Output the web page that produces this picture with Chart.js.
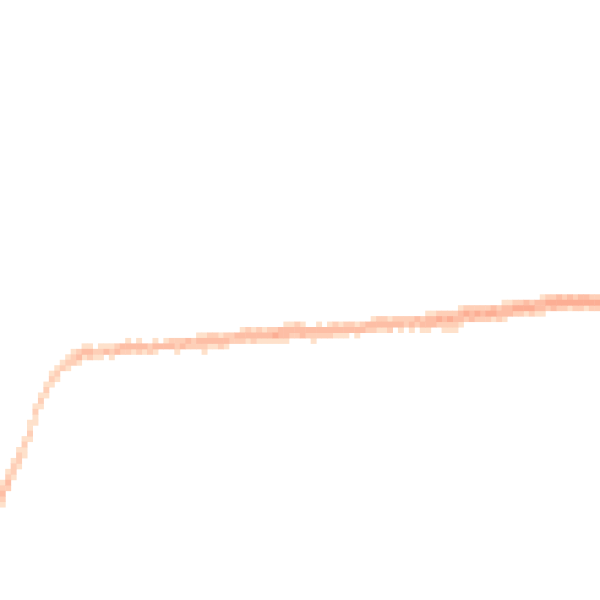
<!DOCTYPE html>
<html>
<head>
<meta charset="utf-8">
<script src="https://cdn.jsdelivr.net/npm/chart.js@4.4.0/dist/chart.umd.min.js"></script>
<style>
html,body{margin:0;padding:0;background:#fff;}
#wrap{width:600px;height:600px;position:relative;}
</style>
</head>
<body>
<div id="wrap"><canvas id="c"></canvas></div>
<script>
// Grid size (columns x rows) of the 2D histogram
const gridCols = 110;
const gridRows = 110;

// Per column: [first row from top, density level of each stacked cell...]
const columnCells = [
  [88,1,2,3,2,1],[86,1,2,3,2],[84,1,2,2,1],[82,1,2,2,1],[80,1,2,1,1],
  [77,1,1,2,1],[74,1,2,1,1],[72,1,2,1],[70,1,2,1],[68,1,2,1],
  [67,1,2,1],[66,1,2],[65,1,2,1],[64,1,2,2],[64,2,3,1],
  [63,1,3,1],[63,1,3,2],[64,2,1],[63,1,2,1],[63,1,3],
  [63,1,2,1],[63,2,3],[63,3,2],[62,1,3,2],[63,3,1],
  [62,1,3,2],[63,3,1],[63,2,2],[62,1,3,1],[63,3],
  [62,1,3],[62,2,3],[62,2,2,1],[62,2,3],[62,3,2],
  [62,2,2],[61,1,3,2],[61,1,3,2,1],[61,2,3,1],[61,2,3,1],
  [61,1,3,2],[61,2,3,1],[61,2,2],[61,3,2],[60,1,3,2],
  [60,2,3,1],[60,1,3,2],[60,2,3,1],[60,1,3,1],[60,2,3,1],
  [60,2,4,1],[60,3,3,1],[59,1,3,3,1],[59,1,3,2],[59,2,3,2],
  [59,1,3,3],[60,3,2],[60,3,2,1],[59,1,3,2],[60,3,2],
  [59,1,3,2],[59,2,3,1],[59,1,3,1],[59,2,3,1],[59,2,3],
  [59,1,3,1],[59,2,3],[59,3,2],[58,1,3,2],[58,2,3,1],
  [58,2,3,1],[58,1,3,2],[58,2,3],[58,2,3,1],[58,2,2],
  [58,2,3,1],[58,3,2],[58,2,3,1],[57,1,3,3,1],[57,1,3,3],
  [57,2,4,2],[57,2,3,2,1],[57,2,4,2,1],[57,2,3,2,1],[56,1,3,3,1],
  [56,2,4,2],[56,2,3,3],[56,2,4,2],[56,2,3,2],[56,2,4,2],
  [56,3,4,1],[56,2,3,2],[55,1,3,3,1],[55,1,3,3],[55,2,4,2],
  [55,2,4,2],[55,3,4,1],[55,2,4,2],[55,3,3,1],[54,1,3,3,1],
  [54,2,4,2],[54,2,4,3],[54,3,4,2],[54,2,4,2],[54,3,4,1],
  [54,2,4,2],[54,3,4,2],[54,3,4,1],[54,2,4,2],[54,2,4,2]
];

// Colour of each density level
const levelColors = ['#ffffff','#fee1cb','#fecfb7','#fdbea5','#fcae94'];

const points = [];
columnCells.forEach((col, c) => {
  const start = col[0];
  for (let k = 1; k < col.length; k++) {
    points.push({x: c + 0.5, y: start + (k - 1) + 0.5, v: col[k]});
  }
});
// draw lighter cells first so darker ones sit on top
points.sort((a, b) => a.v - b.v);

function cellRadius(ctx) {
  const ch = ctx.chart;
  const xs = ch.scales.x;
  if (!xs) return 4;
  const side = Math.abs(xs.getPixelForValue(1) - xs.getPixelForValue(0));
  return (side / 2 + 0.25) / Math.SQRT1_2;
}

new Chart(document.getElementById('c'), {
  type: 'scatter',
  data: {
    datasets: [{
      data: points,
      pointStyle: 'rect',
      pointRadius: cellRadius,
      pointHoverRadius: cellRadius,
      borderWidth: 0,
      pointBorderWidth: 0,
      backgroundColor: ctx => levelColors[ctx.raw ? ctx.raw.v : 1],
      pointBackgroundColor: ctx => levelColors[ctx.raw ? ctx.raw.v : 1]
    }]
  },
  options: {
    responsive: true,
    maintainAspectRatio: false,
    animation: false,
    events: [],
    layout: {padding: 0},
    plugins: {legend: {display: false}, tooltip: {enabled: false}},
    scales: {
      x: {type: 'linear', min: 0, max: gridCols, display: false},
      y: {type: 'linear', min: 0, max: gridRows, reverse: true, display: false}
    }
  }
});
</script>
</body>
</html>
